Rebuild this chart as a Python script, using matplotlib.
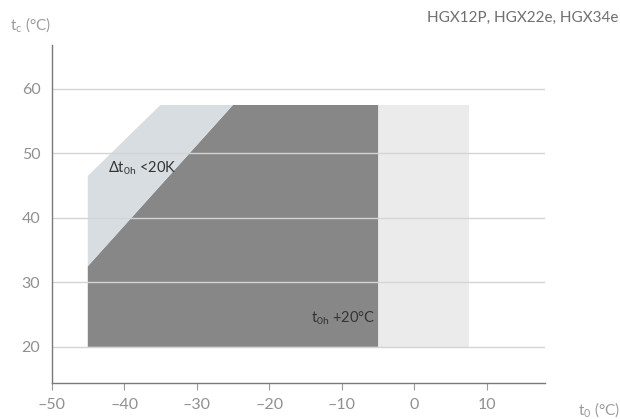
import numpy as np
from matplotlib import pyplot as plt

# Einsatzgrenzen (t0, tc) in °C
BEREICH_DUNKEL_T0 = [-45, -45, -25, -5, -5]
BEREICH_DUNKEL_TC = [20, 32.5, 57.5, 57.5, 20]
BEREICH_BLAU_T0 = [-45, -45, -35, -25]
BEREICH_BLAU_TC = [32.5, 46.5, 57.5, 57.5]
BEREICH_HELL_T0 = [-5, -5, 7.5, 7.5]
BEREICH_HELL_TC = [20, 57.5, 57.5, 20]

X_TICKS = [-50, -40, -30, -20, -10, 0, 10]
Y_TICKS = [20, 30, 40, 50, 60]
TITEL = 'HGX12P, HGX22e, HGX34e'

plt.rcParams['font.family'] = ['Lato', 'DejaVu Sans']
plt.rcParams['mathtext.default'] = 'regular'

fig = plt.figure(figsize=(6.2, 4.19), dpi=100)
ax = fig.add_axes([51.5 / 620, 36 / 419, (545 - 51.5) / 620, (383 - 45) / 419])

ax.fill(BEREICH_HELL_T0, BEREICH_HELL_TC, color='#ebebeb', lw=0, zorder=1)
ax.fill(BEREICH_DUNKEL_T0, BEREICH_DUNKEL_TC, color='#878787', lw=0, zorder=1)
ax.fill(BEREICH_BLAU_T0, BEREICH_BLAU_TC, color='#d8dde1', lw=0, zorder=1)

for y in Y_TICKS:
    ax.axhline(y, color='#d4d4d4', lw=1, zorder=2)

ax.set_xlim(-50, 18)
ax.set_ylim(14.4, 66.8)
ax.set_xticks(X_TICKS)
ax.set_yticks(Y_TICKS)
ax.set_xticklabels([str(v).replace('-', '\u2013') for v in X_TICKS])

for s in ('top', 'right'):
    ax.spines[s].set_visible(False)
for s in ('left', 'bottom'):
    ax.spines[s].set_color('#7a7a7a')
    ax.spines[s].set_linewidth(1)

ax.tick_params(axis='x', length=5, color='#9a9a9a', labelcolor='#909090', labelsize=11.5, pad=6)
ax.tick_params(axis='y', length=0, labelcolor='#909090', labelsize=11.5, pad=8)

ax.text(-42.2, 47.7, r'$\Delta$t$_{0h}$ <20K', fontsize=10.5, color='#333333',
        va='center', ha='left', zorder=3)
ax.text(-14.3, 24.5, r't$_{0h}$ +20°C', fontsize=10.5, color='#333333',
        va='center', ha='left', zorder=3)

fig.text(10 / 620, 1 - 25 / 419, r't$_{c}$ (°C)', fontsize=11, color='#9a9a9a', va='center')
fig.text(578 / 620, 1 - 410 / 419, r't$_{0}$ (°C)', fontsize=11, color='#9a9a9a', va='center')
fig.text(618 / 620, 1 - 18 / 419, TITEL, fontsize=11, color='#707070', ha='right', va='center')

plt.savefig('out.png', dpi=100)
